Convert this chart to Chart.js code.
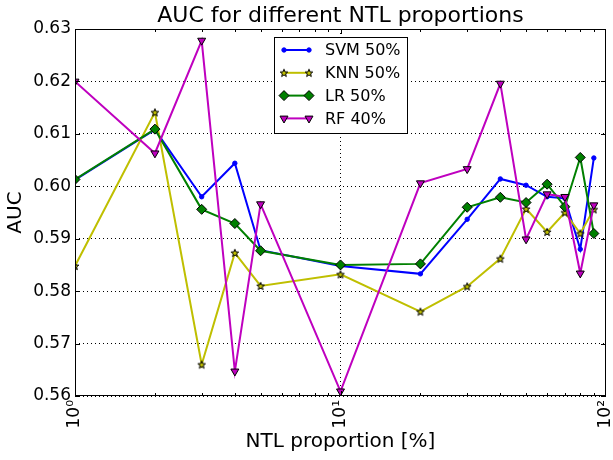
<!DOCTYPE html>
<html>
<head>
<meta charset="utf-8">
<script src="https://cdn.jsdelivr.net/npm/chart.js@4"></script>
<style>
  html, body { margin: 0; padding: 0; background: #fff; }
  #wrap { width: 613px; height: 460px; }
</style>
</head>
<body>
<div id="wrap"><canvas id="aucChart" width="613" height="460"></canvas></div>
<script>
// NTL proportion (%) on log axis
const proportions = [1, 2, 3, 4, 5, 10, 20, 30, 40, 50, 60, 70, 80, 90];
const svm50 = [0.6012, 0.6108, 0.5980, 0.6044, 0.5878, 0.5848, 0.5833, 0.5937, 0.6014, 0.6002, 0.5980, 0.5977, 0.5880, 0.6054];
const knn50 = [0.5848, 0.6141, 0.5660, 0.5873, 0.5810, 0.5832, 0.5761, 0.5809, 0.5862, 0.5957, 0.5913, 0.5950, 0.5910, 0.5956];
const lr50  = [0.6013, 0.6109, 0.5956, 0.5929, 0.5877, 0.5850, 0.5852, 0.5960, 0.5979, 0.5969, 0.6004, 0.5961, 0.6055, 0.5910];
const rf40  = [0.6200, 0.6063, 0.6278, 0.5647, 0.5966, 0.5609, 0.6006, 0.6033, 0.6196, 0.5899, 0.5985, 0.5980, 0.5834, 0.5964];

const xTickValues = [1, 10, 100];
const xTickLabels = ['10⁰', '10¹', '10²'];
const yMin = 0.56, yMax = 0.63, yStep = 0.01;

const FONT = "'DejaVu Sans', sans-serif";
Chart.defaults.color = '#000';
Chart.defaults.font.family = FONT;

// filled 5 point star like matplotlib '*'
function makeStar(fill) {
  const c = document.createElement('canvas');
  c.width = 10; c.height = 10;
  const g = c.getContext('2d');
  g.beginPath();
  for (let i = 0; i < 10; i++) {
    const r = i % 2 ? 1.7 : 4;
    const a = -Math.PI / 2 + i * Math.PI / 5;
    g.lineTo(5 + r * Math.cos(a), 5.4 + r * Math.sin(a));
  }
  g.closePath();
  g.fillStyle = fill;
  g.fill();
  g.lineWidth = 1;
  g.strokeStyle = '#000';
  g.stroke();
  return c;
}
const starImg = makeStar('#bfbf00');

const pts = vals => proportions.map((p, i) => ({ x: p, y: vals[i] }));

const series = [
  { label: 'SVM 50%', data: svm50, color: '#0000ff', style: 'circle', radius: 2.2, edge: '#0000ff', rot: 0 },
  { label: 'KNN 50%', data: knn50, color: '#bfbf00', style: starImg, radius: 4, edge: '#000', rot: 0 },
  { label: 'LR 50%',  data: lr50,  color: '#008000', style: 'rectRot', radius: 5, edge: '#000', rot: 0 },
  { label: 'RF 40%',  data: rf40,  color: '#bf00bf', style: 'triangle', radius: 4.6, edge: '#000', rot: 180 }
];

const extras = {
  id: 'extras',
  afterDraw(chart) {
    const { ctx, chartArea: a, scales: { x, y } } = chart;
    ctx.save();
    // frame
    ctx.strokeStyle = '#000';
    ctx.lineWidth = 1;
    ctx.strokeRect(a.left + 0.5, a.top + 0.5, a.width - 1, a.height - 1);
    // x ticks, major + minor, inside top and bottom
    ctx.beginPath();
    [1, 10].forEach(d => {
      for (let m = 1; m <= 9; m++) {
        const px = Math.round(x.getPixelForValue(d * m)) + 0.5;
        const len = m === 1 ? 5 : 3;
        ctx.moveTo(px, a.bottom); ctx.lineTo(px, a.bottom - len);
        ctx.moveTo(px, a.top); ctx.lineTo(px, a.top + len);
      }
    });
    // y ticks on both sides
    y.ticks.forEach(t => {
      const py = Math.round(y.getPixelForValue(t.value)) + 0.5;
      ctx.moveTo(a.left, py); ctx.lineTo(a.left + 5, py);
      ctx.moveTo(a.right, py); ctx.lineTo(a.right - 5, py);
    });
    ctx.stroke();

    // title
    ctx.fillStyle = '#000';
    ctx.font = '22px ' + FONT;
    ctx.textAlign = 'center';
    ctx.textBaseline = 'middle';
    ctx.fillText('AUC for different NTL proportions', (a.left + a.right) / 2, 16);

    // legend
    const lx = 274, ly = 37, lw = 133, lh = 96;
    ctx.fillStyle = '#fff';
    ctx.fillRect(lx, ly, lw, lh);
    ctx.strokeStyle = '#000';
    ctx.strokeRect(lx + 0.5, ly + 0.5, lw, lh);
    ctx.font = '16px ' + FONT;
    ctx.textAlign = 'left';
    series.forEach((s, i) => {
      const yy = 50 + i * 22.8;
      ctx.strokeStyle = s.color;
      ctx.lineWidth = 2;
      ctx.beginPath();
      ctx.moveTo(284, yy); ctx.lineTo(309, yy);
      ctx.stroke();
      [284, 309].forEach(mx => {
        ctx.fillStyle = s.color;
        ctx.strokeStyle = s.edge;
        ctx.lineWidth = 1;
        Chart.helpers.drawPoint(ctx, { pointStyle: s.style, radius: s.radius, rotation: s.rot, borderWidth: 1 }, mx, yy);
      });
      ctx.fillStyle = '#000';
      ctx.fillText(s.label, 325, yy + 1);
    });
    ctx.restore();
  }
};

new Chart(document.getElementById('aucChart'), {
  type: 'line',
  data: {
    datasets: series.map((s, i) => ({
      label: s.label,
      data: pts(s.data),
      borderColor: s.color,
      backgroundColor: s.color,
      borderWidth: 2,
      tension: 0,
      pointStyle: s.style,
      pointRadius: s.radius,
      pointRotation: s.rot,
      pointBackgroundColor: s.color,
      pointBorderColor: s.edge,
      pointBorderWidth: 1,
      clip: 0,
      order: series.length - i
    }))
  },
  options: {
    responsive: false,
    animation: false,
    layout: { padding: { left: 0, right: 7, top: 29, bottom: 0 } },
    plugins: {
      legend: { display: false },
      tooltip: { enabled: false },
      title: { display: false }
    },
    scales: {
      x: {
        type: 'logarithmic',
        min: 1,
        max: 100,
        afterBuildTicks: s => { s.ticks = xTickValues.map(v => ({ value: v })); },
        afterFit: s => { s.height = 64; s.paddingLeft = 0; s.paddingRight = 0; },
        border: { display: false, dash: [1, 3] },
        grid: {
          drawTicks: false,
          color: c => (c.tick && c.tick.value === 10) ? '#000' : 'rgba(0,0,0,0)',
          lineWidth: 1
        },
        ticks: {
          autoSkip: false,
          minRotation: 90,
          maxRotation: 90,
          padding: 4,
          font: { size: 17 },
          callback: v => xTickLabels[xTickValues.indexOf(v)] || ''
        },
        title: {
          display: true,
          text: 'NTL proportion [%]',
          font: { size: 20 },
          padding: { top: 0, bottom: 6 }
        }
      },
      y: {
        min: yMin,
        max: yMax,
        afterFit: s => { s.width = 75; s.paddingTop = 0; s.paddingBottom = 0; },
        border: { display: false, dash: [1, 3] },
        grid: {
          drawTicks: false,
          color: '#000',
          lineWidth: 1
        },
        ticks: {
          stepSize: yStep,
          padding: 4,
          font: { size: 17 },
          callback: v => v.toFixed(2)
        },
        title: {
          display: true,
          text: 'AUC',
          font: { size: 20 },
          padding: { top: 4, bottom: 0 }
        }
      }
    }
  },
  plugins: [extras]
});
</script>
</body>
</html>
